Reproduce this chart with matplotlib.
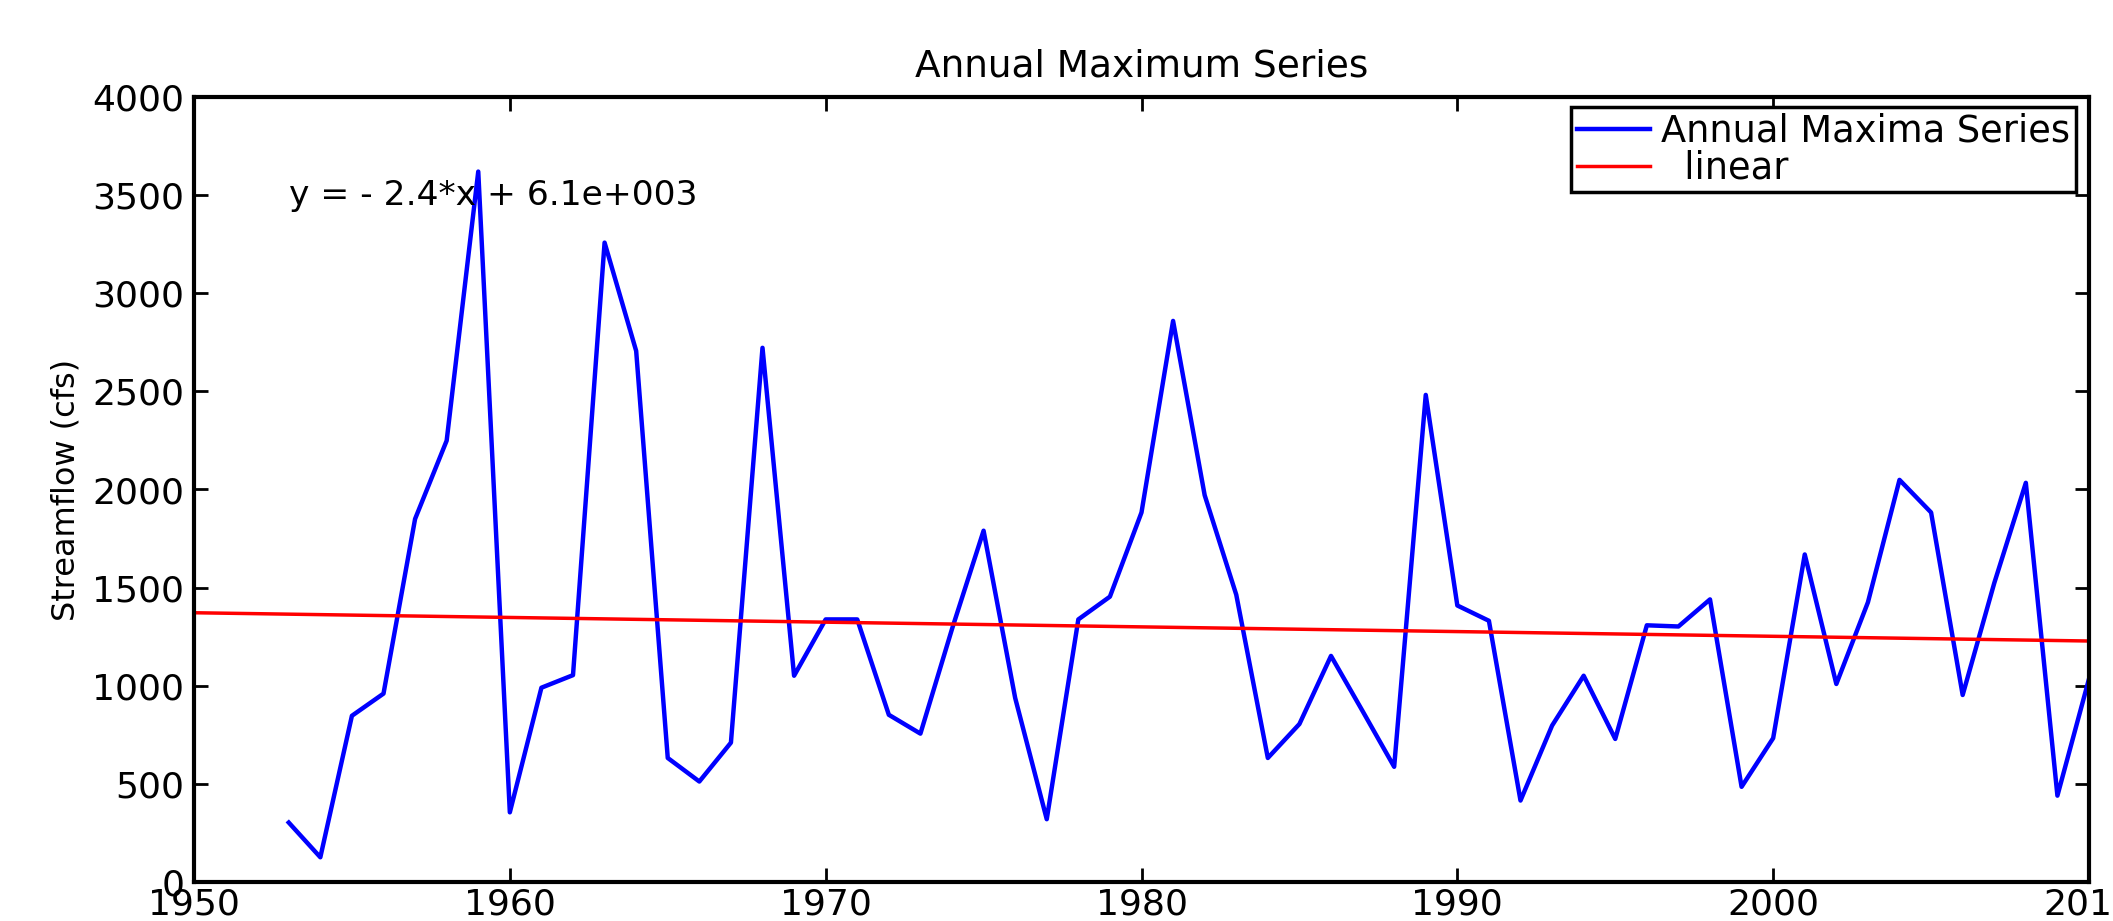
import matplotlib.pyplot as plt
import matplotlib as m

m.rcParams['font.family'] = 'DejaVu Sans'
m.rcParams['font.size'] = 26

# annual maximum streamflow (cfs)
years = list(range(1953, 2011))
peaks = [303, 126, 847, 960, 1850, 2249, 3620, 355, 990, 1054,
         3258, 2706, 632, 512, 710, 2722, 1051, 1338, 1338, 852,
         756, 1289, 1790, 938, 320, 1338, 1454, 1883, 2859, 1971,
         1464, 632, 805, 1152, 871, 587, 2482, 1409, 1331, 415,
         797, 1051, 729, 1308, 1302, 1440, 485, 733, 1669, 1009,
         1425, 2049, 1883, 953, 1523, 2034, 440, 1035]

# linear fit drawn across the full x range
trend_years = [1950, 2010]
trend_vals = [1372, 1228]

fit_label = 'y = - 2.4*x + 6.1e+003'

fig = plt.figure(figsize=(21.13, 9.21), dpi=100)
ax = fig.add_axes([194/2113, 1-882/921, (2089-194)/2113, (882-97)/921])

ax.plot(years, peaks, color='#0000ff', lw=3.2, label='Annual Maxima Series')
ax.plot(trend_years, trend_vals, color='#ff0000', lw=2.5, label='  linear')

ax.set_xlim(1950, 2010)
ax.set_ylim(0, 4000)
ax.set_xticks(range(1950, 2011, 10))
ax.set_yticks(range(0, 4001, 500))

ax.tick_params(direction='in', top=True, right=True, length=10, width=2, pad=7)
ax.tick_params(axis='x', pad=4)
for s in ax.spines.values():
    s.set_linewidth(3)

ax.text(1953, 3500, fit_label, ha='left', va='center', fontsize=24.8)
ax.set_title('Annual Maximum Series', fontsize=27, pad=15)
ax.set_ylabel('Streamflow (cfs)', fontsize=23, labelpad=8)

leg = ax.legend(loc='upper right', bbox_to_anchor=(2076/2113, 1-107/921),
                bbox_transform=fig.transFigure, borderaxespad=0,
                fancybox=False, framealpha=1, edgecolor='black',
                fontsize=26.5, handlelength=2.0, handletextpad=0.3,
                labelspacing=0.0, borderpad=0.15)
leg.get_frame().set_linewidth(2.5)

fig.savefig('out.png', dpi=100)
